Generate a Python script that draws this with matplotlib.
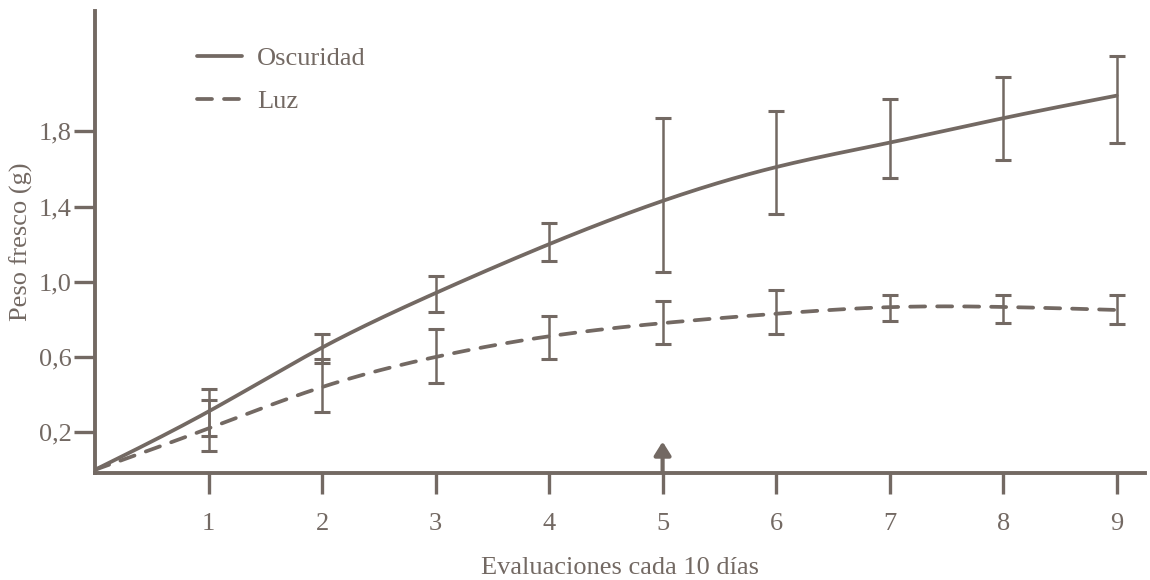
import numpy as np
import matplotlib
matplotlib.use("Agg")
import matplotlib.pyplot as plt

# ---- data ----
evaluaciones = [0, 1, 2, 3, 4, 5, 6, 7, 8, 9]
osc_mean = [0.0, 0.31, 0.65, 0.94, 1.20, 1.43, 1.61, 1.74, 1.87, 1.99]
osc_low  = [None, 0.18, 0.57, 0.84, 1.11, 1.05, 1.36, 1.55, 1.65, 1.74]
osc_high = [None, 0.43, 0.72, 1.03, 1.31, 1.87, 1.91, 1.97, 2.09, 2.20]
luz_mean = [0.0, 0.22, 0.44, 0.60, 0.71, 0.78, 0.83, 0.865, 0.866, 0.85]
luz_low  = [None, 0.10, 0.31, 0.46, 0.59, 0.67, 0.72, 0.79, 0.78, 0.775]
luz_high = [None, 0.37, 0.59, 0.75, 0.82, 0.90, 0.955, 0.93, 0.93, 0.93]
yticks = [0.2, 0.6, 1.0, 1.4, 1.8]
ytick_labels = ["0,2", "0,6", "1,0", "1,4", "1,8"]
xticks = [1, 2, 3, 4, 5, 6, 7, 8, 9]
arrow_x = 5
arrow_len = 0.15

COLOR = "#736963"
plt.rcParams["font.family"] = ["Liberation Serif", "DejaVu Serif"]


def natural_spline(x, y, n=400):
    x = np.asarray(x, float)
    y = np.asarray(y, float)
    k = len(x)
    h = np.diff(x)
    A = np.zeros((k, k))
    b = np.zeros(k)
    A[0, 0] = A[-1, -1] = 1
    for i in range(1, k - 1):
        A[i, i - 1] = h[i - 1]
        A[i, i] = 2 * (h[i - 1] + h[i])
        A[i, i + 1] = h[i]
        b[i] = 3 * ((y[i + 1] - y[i]) / h[i] - (y[i] - y[i - 1]) / h[i - 1])
    c = np.linalg.solve(A, b)
    xs = np.linspace(x[0], x[-1], n)
    ys = np.empty_like(xs)
    for j, xv in enumerate(xs):
        i = min(np.searchsorted(x, xv, side="right") - 1, k - 2)
        dx = xv - x[i]
        bb = (y[i + 1] - y[i]) / h[i] - h[i] * (2 * c[i] + c[i + 1]) / 3
        d = (c[i + 1] - c[i]) / (3 * h[i])
        ys[j] = y[i] + bb * dx + c[i] * dx ** 2 + d * dx ** 3
    return xs, ys


fig = plt.figure(figsize=(11.5, 5.8), dpi=100)
ax = fig.add_axes([0.0826, 0.1845, 0.9131, 0.7965])

xs, ys = natural_spline(evaluaciones, osc_mean)
ax.plot(xs, ys, color=COLOR, lw=2.7, solid_capstyle="round", label="Oscuridad")
xs, ys = natural_spline(evaluaciones, luz_mean)
ax.plot(xs, ys, color=COLOR, lw=2.7, dashes=(4.0, 3.2), dash_capstyle="round", label="Luz")

for mean, lo, hi in ((osc_mean, osc_low, osc_high), (luz_mean, luz_low, luz_high)):
    xe = np.array(evaluaciones[1:])
    m = np.array(mean[1:])
    l = np.array(lo[1:])
    u = np.array(hi[1:])
    ax.errorbar(xe, m, yerr=[m - l, u - m], fmt="none", ecolor=COLOR,
                elinewidth=1.8, capsize=5.5, capthick=2.2)

ax.annotate("", xy=(arrow_x, arrow_len), xytext=(arrow_x, -0.01),
            arrowprops=dict(arrowstyle="-|>,head_width=0.5,head_length=0.8",
                            color=COLOR, lw=3.0, shrinkA=0, shrinkB=0))

ax.set_xlim(0, 9.25)
ax.set_ylim(-0.017, 2.44)
for s in ("top", "right"):
    ax.spines[s].set_visible(False)
for s in ("left", "bottom"):
    ax.spines[s].set_color(COLOR)
    ax.spines[s].set_linewidth(2.8)

ax.set_xticks(xticks)
ax.set_xticklabels([str(v) for v in xticks])
ax.set_yticks(yticks)
ax.set_yticklabels(ytick_labels)
ax.tick_params(axis="both", direction="out", length=15, width=2.4, color=COLOR,
               labelcolor=COLOR, labelsize=19)
ax.tick_params(axis="x", pad=14)
ax.tick_params(axis="y", pad=2)

ax.set_ylabel("Peso fresco (g)", fontsize=19, color=COLOR, labelpad=4)
ax.set_xlabel("Evaluaciones cada 10 días", fontsize=19, color=COLOR, labelpad=16)

leg = ax.legend(loc="upper left", bbox_to_anchor=(0.075, 0.975), frameon=False,
                fontsize=19, handlelength=1.7, handletextpad=0.55, labelspacing=0.75,
                labelcolor=COLOR)

fig.savefig("out.png", dpi=100)
